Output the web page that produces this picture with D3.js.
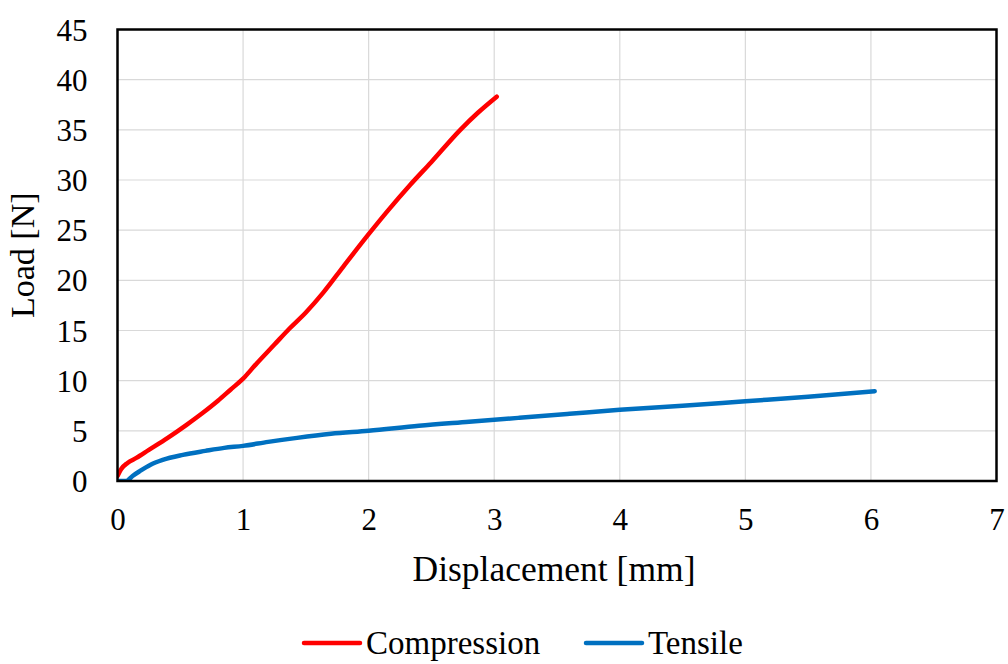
<!DOCTYPE html>
<html>
<head>
<meta charset="utf-8">
<script src="https://cdn.jsdelivr.net/npm/d3@7"></script>
<style>
  body { margin: 0; background: #fff; }
  text { font-family: "Liberation Serif", "Times New Roman", serif; fill: #000; }
</style>
</head>
<body>
<svg id="chart"></svg>
<script>
// values
const xTicks = [0, 1, 2, 3, 4, 5, 6, 7];
const yTicks = [0, 5, 10, 15, 20, 25, 30, 35, 40, 45];

const compressionX = [0, 0.03, 0.08, 0.15, 0.25, 0.4, 0.55, 0.68, 0.8, 0.9, 1.0, 1.1, 1.25, 1.37, 1.5, 1.64, 1.8, 2.0, 2.15, 2.33, 2.5, 2.73, 2.87, 3.02];
const compressionY = [0.5, 1.2, 1.8, 2.3, 3.1, 4.3, 5.6, 6.8, 8.0, 9.1, 10.2, 11.6, 13.6, 15.2, 16.8, 18.8, 21.4, 24.6, 26.9, 29.5, 31.8, 35.0, 36.7, 38.3];

const tensileX = [0, 0.07, 0.12, 0.18, 0.26, 0.36, 0.52, 0.7, 0.85, 1.0, 1.2, 1.43, 1.7, 2.0, 2.4, 2.8, 3.2, 3.6, 4.0, 4.5, 5.0, 5.5, 6.03];
const tensileY = [0, 0, 0.5, 1.0, 1.6, 2.1, 2.6, 3.0, 3.3, 3.5, 3.9, 4.3, 4.7, 5.0, 5.5, 5.9, 6.3, 6.7, 7.1, 7.5, 7.95, 8.4, 8.95];

const seriesNames = ['Compression', 'Tensile'];
const seriesColors = ['#ff0000', '#0070c0'];

const W = 1008, H = 664;
const margin = { top: 29.5, left: 117.5, right: 11.5, bottom: 183 };
const width = W - margin.left - margin.right;
const height = H - margin.top - margin.bottom;

const svg = d3.select('#chart').attr('width', W).attr('height', H);
const chart = svg.append('g').attr('transform', `translate(${margin.left}, ${margin.top})`);

const xScale = d3.scaleLinear().domain([0, 7]).range([0, width]);
const yScale = d3.scaleLinear().domain([0, 45]).range([height, 0]);

// gridlines
chart.append('g')
    .selectAll('line')
    .data(xTicks.slice(1, -1))
    .join('line')
    .attr('x1', d => xScale(d)).attr('x2', d => xScale(d))
    .attr('y1', 0).attr('y2', height)
    .attr('stroke', '#d9d9d9').attr('stroke-width', 1.2);

chart.append('g')
    .selectAll('line')
    .data(yTicks.slice(1, -1))
    .join('line')
    .attr('x1', 0).attr('x2', width)
    .attr('y1', d => yScale(d)).attr('y2', d => yScale(d))
    .attr('stroke', '#d9d9d9').attr('stroke-width', 1.2);

// axes (labels only)
const xAxisG = chart.append('g')
    .attr('transform', `translate(0, ${height})`)
    .call(d3.axisBottom(xScale).tickValues(xTicks).tickSize(0).tickPadding(27).tickFormat(d3.format('d')));
xAxisG.select('.domain').remove();
xAxisG.selectAll('text').attr('font-size', 31).attr('dy', '0.71em')
    .style('font-family', '"Liberation Serif", serif');

const yAxisG = chart.append('g')
    .call(d3.axisLeft(yScale).tickValues(yTicks).tickSize(0).tickPadding(30).tickFormat(d3.format('d')));
yAxisG.select('.domain').remove();
yAxisG.selectAll('text').attr('font-size', 31).attr('dy', '0.34em')
    .style('font-family', '"Liberation Serif", serif');

// series
const line = d3.line().x(d => xScale(d[0])).y(d => yScale(d[1])).curve(d3.curveMonotoneX);
const series = [
    d3.zip(compressionX, compressionY),
    d3.zip(tensileX, tensileY)
];

chart.append('defs').append('clipPath').attr('id', 'clip')
    .append('rect').attr('x', 0).attr('y', -10).attr('width', width).attr('height', height + 10);

chart.append('g').attr('clip-path', 'url(#clip)')
    .selectAll('path')
    .data(series)
    .join('path')
    .attr('d', line)
    .attr('fill', 'none')
    .attr('stroke', (d, i) => seriesColors[i])
    .attr('stroke-width', 4.5)
    .attr('stroke-linejoin', 'round')
    .attr('stroke-linecap', 'round');

// frame
chart.append('rect')
    .attr('x', 0).attr('y', 0).attr('width', width).attr('height', height)
    .attr('fill', 'none').attr('stroke', '#000').attr('stroke-width', 2.5);

// axis titles
chart.append('text')
    .attr('x', width / 2 - 3).attr('y', height + 100)
    .attr('text-anchor', 'middle').attr('font-size', 35.5)
    .text('Displacement [mm]');

chart.append('text')
    .attr('transform', `translate(${-84}, ${height / 2}) rotate(-90)`)
    .attr('text-anchor', 'middle').attr('font-size', 34)
    .text('Load [N]');

// legend
const legend = svg.append('g').attr('transform', 'translate(304, 643)');
const legendOffsets = [0, 282];
const items = legend.selectAll('g')
    .data(seriesNames)
    .join('g')
    .attr('transform', (d, i) => `translate(${legendOffsets[i]}, 0)`);
items.append('line')
    .attr('x1', 0).attr('x2', 56).attr('y1', 0).attr('y2', 0)
    .attr('stroke', (d, i) => seriesColors[i]).attr('stroke-width', 4.5)
    .attr('stroke-linecap', 'round');
items.append('text')
    .attr('x', 62).attr('dy', '0.33em').attr('font-size', 33)
    .text(d => d);
</script>
</body>
</html>
